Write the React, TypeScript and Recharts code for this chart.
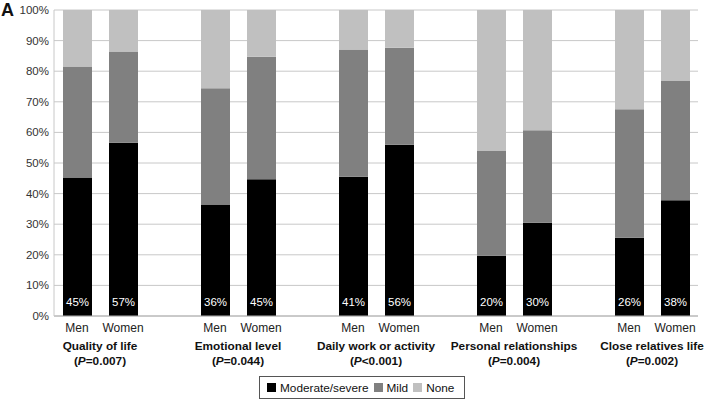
import { BarChart, Bar, XAxis, YAxis, CartesianGrid, LabelList } from "recharts";

const FONT = "'Liberation Sans', Arial, sans-serif";

// one slot per bar, empty slots separate the domains
const slotKeys = ["q-m", "q-w", "gap1", "e-m", "e-w", "gap2", "d-m", "d-w", "gap3", "p-m", "p-w", "gap4", "c-m", "c-w"];
const sexLabels = ["Men", "Women", "", "Men", "Women", "", "Men", "Women", "", "Men", "Women", "", "Men", "Women"];
const moderate = [45.3, 56.6, null, 36.4, 44.7, null, 45.5, 56, null, 19.7, 30.5, null, 25.6, 37.8];
const mild = [36.2, 29.8, null, 38, 40, null, 41.6, 31.7, null, 34.2, 30.2, null, 42, 39.2];
const none = [18.5, 13.6, null, 25.6, 15.3, null, 12.9, 12.3, null, 46.1, 39.3, null, 32.4, 23];
const pctLabels = ["45%", "57%", "", "36%", "45%", "", "41%", "56%", "", "20%", "30%", "", "26%", "38%"];

const groupTitles = ["Quality of life", "Emotional level", "Daily work or activity", "Personal relationships", "Close relatives life"];
const groupP = ["=0.007", "=0.044", "<0.001", "=0.004", "=0.002"];

const yTicks = [0, 10, 20, 30, 40, 50, 60, 70, 80, 90, 100];

const data = slotKeys.map((key, i) => ({
  key,
  sex: sexLabels[i],
  moderate: moderate[i],
  mild: mild[i],
  none: none[i],
  label: pctLabels[i],
}));

const SLOT = 46;

function XTick(props: any) {
  const { x, y, index } = props;
  const sex = sexLabels[index];
  if (!sex) return null;
  const g = Math.floor(index / 3);
  const isFirst = index % 3 === 0;
  return (
    <g>
      <text x={x} y={y + 8} textAnchor="middle" fontSize={12} fill="#222" fontFamily={FONT}>
        {sex}
      </text>
      {isFirst && (
        <text x={x + SLOT / 2} fontSize={11.8} fontWeight="bold" fill="#111" fontFamily={FONT} textAnchor="middle">
          <tspan x={x + SLOT / 2} y={y + 26}>{groupTitles[g]}</tspan>
          <tspan x={x + SLOT / 2} y={y + 41}>
            (<tspan fontStyle="italic">P</tspan>
            {groupP[g]})
          </tspan>
        </text>
      )}
    </g>
  );
}

function PctLabel(props: any) {
  const { x, y, width, height, value } = props;
  if (!value) return null;
  return (
    <text x={x + width / 2} y={y + height - 10} textAnchor="middle" fontSize={11.5} fill="#fff" fontFamily={FONT}>
      {value}
    </text>
  );
}

const legendItems = [
  { name: "Moderate/severe", color: "#000000" },
  { name: "Mild", color: "#808080" },
  { name: "None", color: "#c0c0c0" },
];

export default function App() {
  return (
    <div style={{ position: "absolute", left: 0, top: 0, width: 704, height: 400, background: "#fff", fontFamily: FONT }}>
      <div style={{ position: "absolute", left: 1, top: 0, fontSize: 18, fontWeight: "bold", color: "#111", lineHeight: "20px" }}>
        A
      </div>
      <BarChart
        width={704}
        height={400}
        data={data}
        margin={{ top: 10, right: 6, left: 0, bottom: 24 }}
        barCategoryGap={0}
      >
        <CartesianGrid vertical={false} stroke="#c8c8c8" strokeWidth={1} />
        <XAxis
          dataKey="key"
          interval={0}
          height={60}
          tickLine={false}
          axisLine={{ stroke: "#b0b0b0" }}
          tick={<XTick />}
        />
        <YAxis
          width={54}
          domain={[0, 100]}
          ticks={yTicks}
          interval={0}
          tickFormatter={(v: number) => `${v}%`}
          tickLine={false}
          tickSize={0}
          tickMargin={5}
          axisLine={{ stroke: "#c8c8c8" }}
          tick={{ fontSize: 11.5, fill: "#333", fontFamily: FONT }}
        />
        <Bar dataKey="moderate" stackId="a" fill="#000000" barSize={29} isAnimationActive={false}>
          <LabelList dataKey="label" content={<PctLabel />} />
        </Bar>
        <Bar dataKey="mild" stackId="a" fill="#808080" barSize={29} isAnimationActive={false} />
        <Bar dataKey="none" stackId="a" fill="#c0c0c0" barSize={29} isAnimationActive={false} />
      </BarChart>
      <div
        style={{
          position: "absolute",
          left: 259,
          top: 376,
          width: 204,
          height: 21,
          border: "1px solid #555",
          display: "flex",
          alignItems: "center",
          fontSize: 11.8,
          color: "#111",
          boxSizing: "content-box",
        }}
      >
        {legendItems.map((it, i) => (
          <div key={it.name} style={{ display: "flex", alignItems: "center", marginLeft: i === 0 ? 7 : 5 }}>
            <span style={{ display: "inline-block", width: 9, height: 9, background: it.color, marginRight: 4 }} />
            <span>{it.name}</span>
          </div>
        ))}
      </div>
    </div>
  );
}
